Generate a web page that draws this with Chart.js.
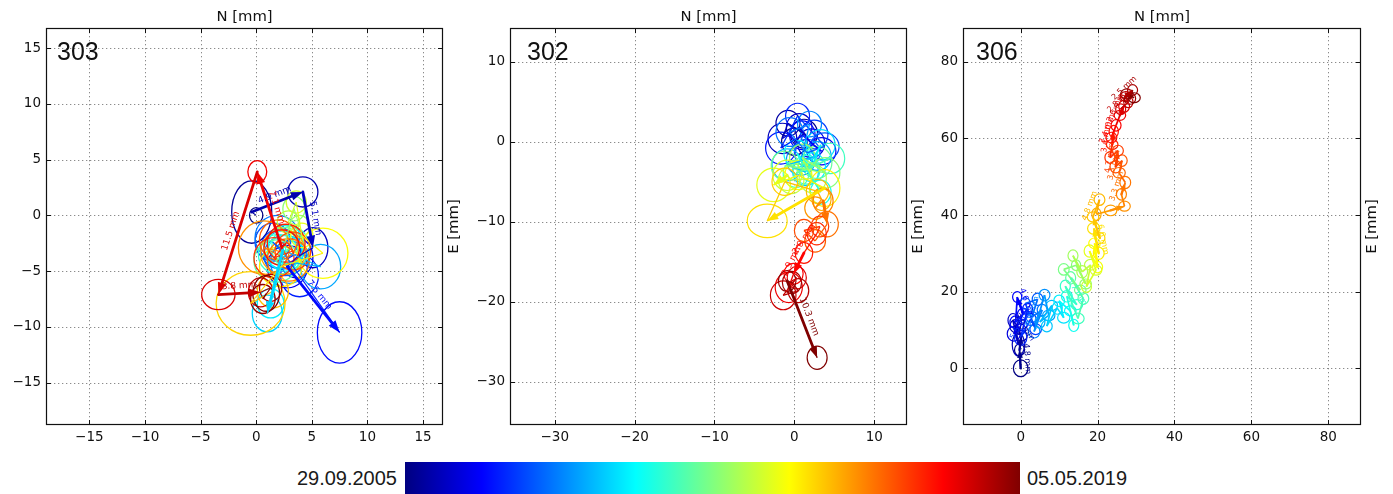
<!DOCTYPE html>
<html>
<head>
<meta charset="utf-8">
<title>GNSS station tracks 303 / 302 / 306</title>
<script src="https://cdn.jsdelivr.net/npm/chart.js@4.4.1/dist/chart.umd.min.js"></script>
<style>
  html, body { margin:0; padding:0; background:#fff; }
  body { width:1393px; height:494px; position:relative; overflow:hidden; }
  canvas { position:absolute; top:0; }
  #cbar { position:absolute; left:405px; top:462px; width:615px; height:32px; }
  .cblab { position:absolute; top:466px; font:20px 'Liberation Sans', Arial, sans-serif; color:#1a1a1a; line-height:24px; white-space:nowrap; }
</style>
</head>
<body>
<canvas id="c303" width="464" height="460" style="left:0"></canvas>
<canvas id="c302" width="462" height="460" style="left:464px"></canvas>
<canvas id="c306" width="467" height="460" style="left:926px"></canvas>
<div id="cbar"></div>
<div class="cblab" id="cbStart" style="right:996px"></div>
<div class="cblab" id="cbEnd" style="left:1027px"></div>
<script>
// ---- epoch range of the colour scale ----
const colorbarDates = ['29.09.2005', '05.05.2019'];

// ---- station 303: positions [mm], error ellipse semi-axes [mm] ----
const north303 = [0.0,-0.4,4.2,5.1,3.6,2.8,7.5,3.9,2.2,1.5, 2.6,1.9,3.0,5.8,2.4,1.0,1.3,2.6,2.7,2.0,
                  3.1,1.8,2.5,3.4,3.9,2.9,3.6,4.1,6.0,2.2, -0.5,1.5,2.4,0.7,2.9,2.0,3.3,1.6,2.7,2.3,
                  0.1,-3.4,0.4,1.3,0.6,0.9];
const east303  = [0.0,0.3,2.1,-2.9,-3.8,-4.6,-10.5,-5.4,-3.0,-2.4, -3.6,-2.0,-4.2,-4.6,-3.1,-8.8,-7.9,-3.4,-2.6,-3.5,
                  -2.9,-4.1,-2.8,0.6,-1.0,-0.6,1.2,-1.8,-3.4,-4.6, -7.9,-6.8,-3.3,-2.9,-4.0,-2.2,-3.2,-3.8,-2.5,-2.9,
                  3.9,-7.1,-6.9,-6.5,-7.5,-7.0];
const semiN303 = [0.6,1.8,1.35,1.35,1.5,1.8,2.0,1.7,1.8,1.6, 1.9,2.0,1.7,1.8,1.7,1.35,1.2,1.6,1.6,1.8,
                  1.7,2.0,1.8,1.0,0.9,1.0,0.9,1.0,2.25,1.9, 3.1,1.4,2.0,2.3,1.9,1.7,1.6,1.8,1.7,1.6,
                  0.85,1.5,1.1,1.0,1.1,1.2];
const semiE303 = [0.7,2.8,1.35,1.8,1.8,1.9,2.75,1.9,1.8,1.7, 1.8,2.0,1.9,2.0,1.7,1.65,1.3,1.6,1.7,1.8,
                  1.9,1.9,1.7,1.1,1.0,1.0,1.0,1.1,2.25,1.8, 2.85,1.5,2.0,2.4,1.9,1.8,1.7,1.8,1.7,1.6,
                  1.0,1.35,1.3,1.2,1.3,1.6];
const arrows303 = [2,3,6,15,40,41,42];
const labels303 = [2,3,6,40,41,42];
const ticks303 = [-15,-10,-5,0,5,10,15];
const nLim303 = [-18.9, 16.8], eLim303 = [-18.8, 16.8];

// ---- station 302 ----
const north302 = [0.0,1.2,-0.8,-1.5,0.6,2.1,3.4,1.0,-1.7,0.4,2.5,3.8,1.6,-0.6,1.9,
                  0.8,2.9,-0.9,1.4,3.3,2.2,0.3,3.3, 1.5,4.5,0.2,2.8,-1.2,3.9,1.0,2.3,
                  -0.4,-0.9, -2.6,0.5,3.8,-3.4,
                  -1.2,2.9,3.4,2.6,3.6,4.1,2.6,1.2,3.2,2.8,1.2,-0.1,-0.7,0.3,-1.4,0.5,-0.3,-0.9,2.85];
const east302  = [0.0,1.0,2.3,0.4,1.8,-0.2,-1.2,0.8,-0.8,3.2,0.9,-0.6,-1.4,1.2,2.2,
                  -2.3,-1.8,-2.9,-3.8,-0.4,-3.2,-1.5,-6.3, -3.5,-2.1,-4.0,-2.6,-3.0,-3.9,-2.0,-4.6,
                  -4.8,-4.2, -5.4,-4.2,-5.8,-9.9,
                  -5.0,-6.2,-7.2,-8.3,-7.4,-10.3,-12.4,-11.1,-10.6,-11.5,-13.9,-16.5,-18.2,-17.0,-19.2,-18.6,-17.6,-17.4,-27.0];
const semiN302 = [1.6,1.7,1.5,1.8,1.6,1.7,1.8,1.6,1.9,1.5,1.7,1.8,1.6,1.7,1.5,
                  1.8,1.7,1.9,1.6,1.8,1.7,1.6,1.3, 1.7,1.8,1.6,1.9,1.7,1.8,1.6,1.7,
                  1.6,1.8, 2.1,1.7,1.9,2.5,
                  1.6,1.4,1.2,1.3, 1.25,1.4,1.3,1.2,1.1,1.2,1.1,1.2, 1.7,1.2,1.6,1.3,1.2,1.1,1.25];
const semiE302 = [1.7,1.8,1.6,1.9,1.7,1.8,1.7,1.8,2.0,1.6,1.8,1.7,1.7,1.8,1.6,
                  1.9,1.8,2.0,1.7,1.9,1.8,1.7,1.5, 1.8,1.9,1.7,2.0,1.8,1.9,1.7,1.8,
                  1.7,1.9, 2.1,1.8,2.3,2.1,
                  1.7,1.5,1.4,1.4, 1.6,1.6,1.4,1.4,1.3,1.4,1.3,1.3, 1.9,1.4,1.8,1.5,1.4,1.3,1.45];
const arrows302 = [33,36,42,48,55];
const labels302 = [47,48,55];
const ticks302 = [-30,-20,-10,0,10];
const nLim302 = [-35.6, 14.1], eLim302 = [-35.4, 14.2];

// ---- station 306 ----
const north306 = [0.0,-0.3,0.2,-1.4,-0.6,-2.0,-0.2,-1.8,0.6,-0.9, -1.3,1.8,0.0,2.6,3.9,1.2,4.4,2.9,5.6,3.5,
                  6.2,7.3,5.0,8.1,6.8,9.5,11.2,10.0,12.9,13.8, 12.0,14.6,11.6,14.9,16.3,13.0,15.5,11.2,14.4,16.9,
                  13.6,16.0,18.2,17.1,19.6,17.9,20.0,19.2,20.3,19.0, 20.6,18.8,20.5,19.7,23.4,27.0,26.2,27.2,25.6,26.4,
                  24.7,25.3,23.2,23.8,24.2,23.6,24.8,25.8,26.9,26.0, 28.0,27.3,29.1,28.4,27.6,29.5];
const east306  = [0.0,4.8,8.5,11.0,6.2,12.5,10.2,9.0,14.2,18.6, 12.0,15.5,8.0,12.8,10.2,16.9,18.0,13.4,15.2,9.6,
                  19.1,13.8,12.1,16.4,11.0,15.7,13.2,17.6,15.0,11.2, 18.8,16.6,21.4,13.0,18.2,23.6,20.4,25.8,26.9,22.0,
                  29.4,25.2,27.0,21.3,25.6,30.6,26.4,32.6,30.0,36.5, 34.0,39.5,44.0,40.2,41.2,42.3,45.4,48.5,51.0,54.2,
                  52.6,56.8,55.0,58.4,61.8,60.2,63.4,66.0,68.4,67.6, 69.5,70.9,72.6,70.4,71.6,70.6];
const semiN306 = [1.9,1.3,1.5,1.4,1.6,1.3,1.5,1.7,1.4,1.2, 1.5,1.3,1.6,1.4,1.5,1.3,1.4,1.6,1.3,1.5,
                  1.4,1.6,1.3,1.5,1.4,1.3,1.6,1.4,1.5,1.3, 1.4,1.5,1.3,1.6,1.4,1.3,1.5,1.4,1.2,1.5,
                  1.3,1.4,1.6,1.3,1.5,1.4,1.3,1.5,1.4,1.6, 1.3,1.5,1.4,1.2,1.6,1.5,1.3,1.4,1.6,1.3,
                  1.5,1.4,1.3,1.5,1.2,1.4,1.3,1.5,1.4,1.3, 1.2,1.4,1.3,1.5,1.6,1.6];
const semiE306 = [2.2,1.6,1.4,1.7,3.0,1.8,1.4,1.9,1.5,1.4, 1.7,1.5,2.0,1.6,1.4,1.5,1.6,1.4,1.5,1.7,
                  1.5,1.4,1.6,1.3,1.5,1.6,1.4,1.5,1.3,1.6, 1.5,1.3,1.6,1.4,1.5,1.6,1.3,1.5,1.4,1.3,
                  1.5,1.6,1.4,1.5,1.3,1.6,1.5,1.4,1.6,1.5, 1.4,1.3,1.5,1.6,1.4,1.3,1.5,1.6,1.4,1.5,
                  1.6,1.4,1.5,1.3,1.6,1.4,1.5,1.3,1.6,1.4, 1.5,1.3,1.4,1.5,1.3,1.3];
const arrows306 = [1,2,9,47,49,51,55,57,61,64,68,72];
const labels306 = [1,3,9,13,20,32,49,52,57,59,61,64,66,68,70,72];
const ticks306 = [0,20,40,60,80];
const nLim306 = [-15.0, 88.5], eLim306 = [-14.8, 88.8];

// ---- jet colour map ----
function jet(f) {
  const c = v => Math.round(255 * Math.max(0, Math.min(1, v)));
  return `rgb(${c(1.5 - Math.abs(4*f - 3))},${c(1.5 - Math.abs(4*f - 2))},${c(1.5 - Math.abs(4*f - 1))})`;
}
const fmtTick = v => (v < 0 ? '\u2212' + Math.abs(v) : String(v));

document.getElementById('cbar').style.background =
  'linear-gradient(to right,' + [0,0.125,0.25,0.375,0.5,0.625,0.75,0.875,1].map(f => `${jet(f)} ${f*100}%`).join(',') + ')';
document.getElementById('cbStart').textContent = colorbarDates[0];
document.getElementById('cbEnd').textContent = colorbarDates[1];

// ---- decorations: grid, error ellipses, jump arrows, labels, frame ----
function trackDecor(st) {
  const last = st.north.length - 1;
  const col = i => jet(i / last);
  const pt = (chart, i) => [chart.scales.x.getPixelForValue(st.north[i]), chart.scales.y.getPixelForValue(st.east[i])];
  return {
    id: 'trackDecor',
    beforeDatasetsDraw(chart) {
      const {ctx, chartArea: ca, scales: {x, y}} = chart;
      ctx.save();
      ctx.strokeStyle = 'rgba(90,90,90,0.7)';
      ctx.lineWidth = 1;
      ctx.setLineDash([1.3, 2.7]);
      st.ticks.forEach(v => {
        const px = Math.round(x.getPixelForValue(v)) + 0.5;
        const py = Math.round(y.getPixelForValue(v)) + 0.5;
        ctx.beginPath(); ctx.moveTo(px, ca.top); ctx.lineTo(px, ca.bottom); ctx.stroke();
        ctx.beginPath(); ctx.moveTo(ca.left, py); ctx.lineTo(ca.right, py); ctx.stroke();
      });
      ctx.setLineDash([]);
      ctx.beginPath(); ctx.rect(ca.left, ca.top, ca.width, ca.height); ctx.clip();
      ctx.lineWidth = st.ellipseWidth;
      st.north.forEach((n, i) => {
        const e = st.east[i];
        const cx = x.getPixelForValue(n), cy = y.getPixelForValue(e);
        const rx = Math.abs(x.getPixelForValue(n + st.semiN[i]) - cx);
        const ry = Math.abs(y.getPixelForValue(e + st.semiE[i]) - cy);
        ctx.strokeStyle = col(i);
        ctx.beginPath(); ctx.ellipse(cx, cy, rx, ry, 0, 0, Math.PI * 2); ctx.stroke();
      });
      ctx.restore();
    },
    afterDatasetsDraw(chart) {
      const {ctx, chartArea: ca} = chart;
      ctx.save();
      ctx.beginPath(); ctx.rect(ca.left, ca.top, ca.width, ca.height); ctx.clip();
      st.arrows.forEach(i => {
        const [x0, y0] = pt(chart, i - 1), [x1, y1] = pt(chart, i);
        const ang = Math.atan2(y1 - y0, x1 - x0);
        const hl = st.headLen, hw = st.headLen * 0.36;
        const bx = x1 - hl * Math.cos(ang), by = y1 - hl * Math.sin(ang);
        ctx.strokeStyle = ctx.fillStyle = col(i);
        ctx.lineWidth = st.arrowWidth;
        ctx.lineCap = 'round';
        ctx.beginPath(); ctx.moveTo(x0, y0); ctx.lineTo(bx, by); ctx.stroke();
        ctx.beginPath();
        ctx.moveTo(x1, y1);
        ctx.lineTo(bx + hw * Math.sin(ang), by - hw * Math.cos(ang));
        ctx.lineTo(bx - hw * Math.sin(ang), by + hw * Math.cos(ang));
        ctx.closePath(); ctx.fill();
      });
      ctx.font = st.labelFont;
      ctx.textAlign = 'center';
      ctx.textBaseline = 'bottom';
      st.labels.forEach(i => {
        const d = Math.hypot(st.north[i] - st.north[i - 1], st.east[i] - st.east[i - 1]);
        const [x0, y0] = pt(chart, i - 1), [x1, y1] = pt(chart, i);
        let ang = Math.atan2(y1 - y0, x1 - x0);
        if (ang > Math.PI / 2) ang -= Math.PI;
        if (ang < -Math.PI / 2) ang += Math.PI;
        ctx.save();
        ctx.translate((x0 + x1) / 2, (y0 + y1) / 2);
        ctx.rotate(ang);
        ctx.fillStyle = col(i);
        ctx.fillText(d.toFixed(1) + ' mm', 0, -3);
        ctx.restore();
      });
      ctx.restore();
    },
    afterDraw(chart) {
      const {ctx, chartArea: ca, scales: {x, y}} = chart;
      ctx.save();
      ctx.strokeStyle = '#111';
      ctx.lineWidth = 1.2;
      ctx.strokeRect(ca.left + 0.5, ca.top + 0.5, ca.width - 1, ca.height - 1);
      ctx.lineWidth = 1;
      st.ticks.forEach(v => {
        const px = Math.round(x.getPixelForValue(v)) + 0.5;
        const py = Math.round(y.getPixelForValue(v)) + 0.5;
        ctx.beginPath();
        ctx.moveTo(px, ca.bottom); ctx.lineTo(px, ca.bottom - 5);
        ctx.moveTo(px, ca.top); ctx.lineTo(px, ca.top + 5);
        ctx.moveTo(ca.left, py); ctx.lineTo(ca.left + 5, py);
        ctx.moveTo(ca.right, py); ctx.lineTo(ca.right - 5, py);
        ctx.stroke();
      });
      ctx.fillStyle = '#111';
      ctx.font = "14.8px 'DejaVu Sans'";
      ctx.textAlign = 'center';
      ctx.textBaseline = 'middle';
      ctx.fillText('N [mm]', (ca.left + ca.right) / 2, 17);
      ctx.save();
      ctx.translate(ca.right + 11, (ca.top + ca.bottom) / 2);
      ctx.rotate(-Math.PI / 2);
      ctx.fillText('E [mm]', 0, 0);
      ctx.restore();
      ctx.font = "25px 'Liberation Sans'";
      ctx.textAlign = 'left';
      ctx.textBaseline = 'alphabetic';
      ctx.fillText(st.code, ca.left + st.codeDx, 60);
      ctx.restore();
    }
  };
}

function makeTrack(st) {
  const last = st.north.length - 1;
  const tickFont = {family: "'DejaVu Sans'", size: 13.5};
  const fixTicks = s => { s.ticks = st.ticks.map(v => ({value: v})); };
  new Chart(document.getElementById(st.canvas), {
    type: 'scatter',
    data: {
      datasets: [{
        data: st.north.map((n, i) => ({x: n, y: st.east[i]})),
        showLine: true,
        borderWidth: st.lineWidth,
        borderColor: jet(0),
        pointRadius: 0,
        pointHoverRadius: 0,
        tension: 0,
        segment: { borderColor: c => jet(c.p1DataIndex / last) }
      }]
    },
    options: {
      responsive: false,
      animation: false,
      events: [],
      layout: { padding: { left: 0, top: 28, right: st.padRight, bottom: 0 } },
      plugins: { legend: {display: false}, tooltip: {enabled: false} },
      scales: {
        x: {
          type: 'linear', position: 'bottom', min: st.nLim[0], max: st.nLim[1],
          afterBuildTicks: fixTicks,
          afterFit: s => { s.height = 35; },
          grid: {display: false, drawTicks: false},
          border: {display: false},
          ticks: {padding: 4, color: '#111', font: tickFont, maxRotation: 0, autoSkip: false, callback: v => fmtTick(v)}
        },
        y: {
          type: 'linear', position: 'left', min: st.eLim[0], max: st.eLim[1],
          afterBuildTicks: fixTicks,
          afterFit: s => { s.width = st.axisW; },
          grid: {display: false, drawTicks: false},
          border: {display: false},
          ticks: {padding: 5, color: '#111', font: tickFont, autoSkip: false, callback: v => fmtTick(v)}
        }
      }
    },
    plugins: [trackDecor(st)]
  });
}

makeTrack({canvas: 'c303', code: '303', north: north303, east: east303, semiN: semiN303, semiE: semiE303,
  arrows: arrows303, labels: labels303, ticks: ticks303, nLim: nLim303, eLim: eLim303,
  axisW: 46, padRight: 21, codeDx: 11, lineWidth: 1.1, ellipseWidth: 1.3, arrowWidth: 2.8, headLen: 12,
  labelFont: "9px 'DejaVu Sans'"});
makeTrack({canvas: 'c302', code: '302', north: north302, east: east302, semiN: semiN302, semiE: semiE302,
  arrows: arrows302, labels: labels302, ticks: ticks302, nLim: nLim302, eLim: eLim302,
  axisW: 46, padRight: 19, codeDx: 17, lineWidth: 1.3, ellipseWidth: 1.2, arrowWidth: 2.8, headLen: 11,
  labelFont: "9px 'DejaVu Sans'"});
makeTrack({canvas: 'c306', code: '306', north: north306, east: east306, semiN: semiN306, semiE: semiE306,
  arrows: arrows306, labels: labels306, ticks: ticks306, nLim: nLim306, eLim: eLim306,
  axisW: 37, padRight: 32, codeDx: 13, lineWidth: 1.7, ellipseWidth: 1.2, arrowWidth: 2.3, headLen: 8,
  labelFont: "8px 'DejaVu Sans'"});
</script>
</body>
</html>
